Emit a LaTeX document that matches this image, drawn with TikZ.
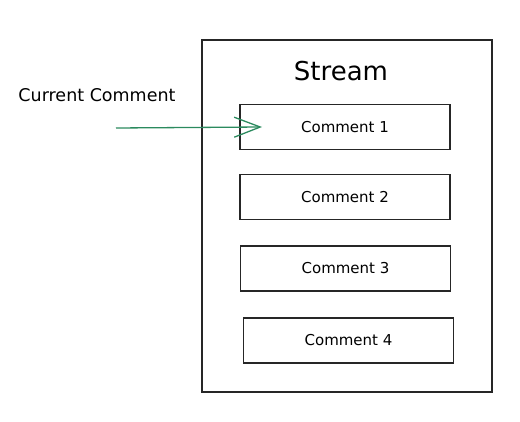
\documentclass[tikz,border=0pt]{standalone}
\usepackage{fontspec}
\setmainfont{DejaVu Sans}
\usetikzlibrary{arrows.meta}
\definecolor{exgreen}{HTML}{2B8A5E}
\tikzset{
  outerbox/.style={draw=black!85, line width=1.4pt},
  cbox/.style={draw=black!85, line width=1.4pt, minimum width=210pt, minimum height=45pt, inner sep=0pt, font=\fontsize{15}{17}\selectfont},
  lbl/.style={font=\fontsize{17.5}{20}\selectfont, inner sep=0pt},
  garrow/.style={draw=exgreen, line width=1.3pt, -{Straight Barb[length=26pt,width=20pt,line width=1.3pt]}}
}
\begin{document}
\begin{tikzpicture}[x=1pt,y=-1pt]
\useasboundingbox (0,0) rectangle (520,422);
\draw[outerbox] (202,40) rectangle (492,392);
\node[lbl, font=\fontsize{26}{30}\selectfont] (stream) at (341,71) {Stream};
\node[cbox] (c1) at (345,127) {Comment 1};
\node[cbox] (c2) at (345,197) {Comment 2};
\node[cbox] (c3) at (345.5,268.5) {Comment 3};
\node[cbox] (c4) at (348.5,340.5) {Comment 4};
\node[lbl] (cur) at (97,95) {Current Comment};
\coordinate (start) at (116,128);
\coordinate (tip) at (262,127);
\draw[garrow] (start) -- (tip);
\end{tikzpicture}
\end{document}
